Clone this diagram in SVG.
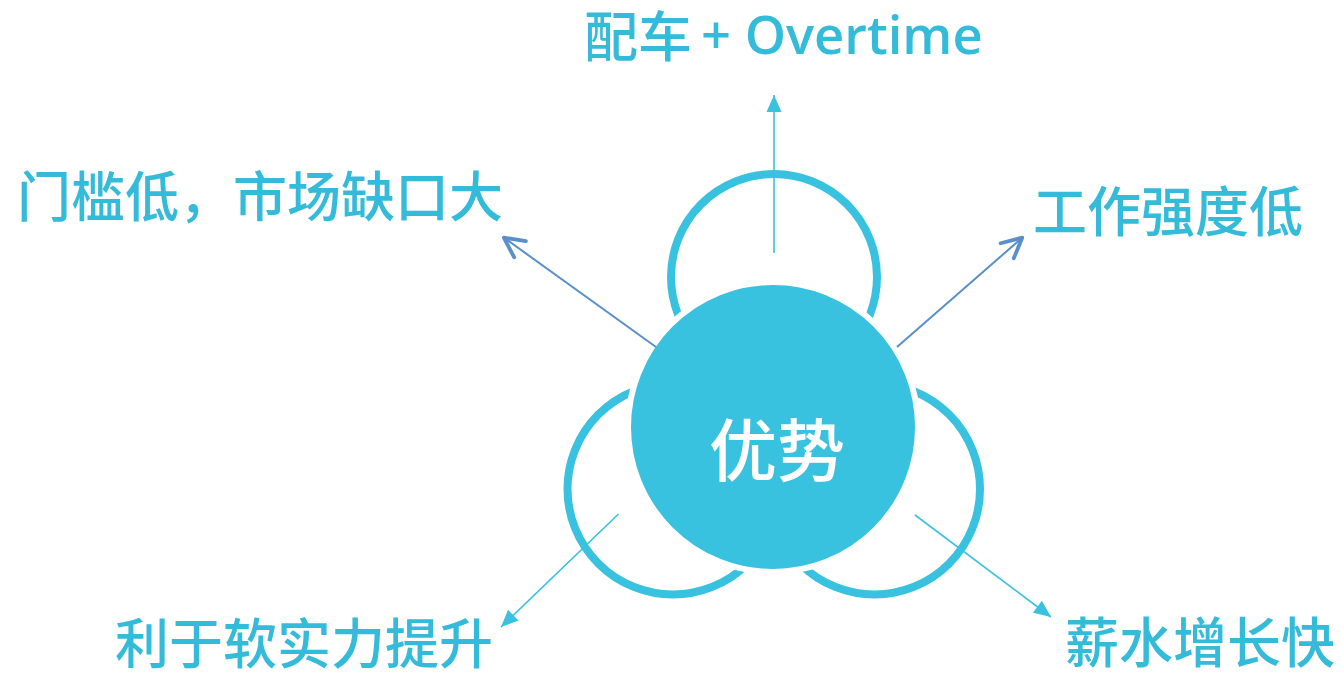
<svg xmlns="http://www.w3.org/2000/svg" width="1341" height="674" viewBox="0 0 1341 674">
  <defs>
    <style>
      .ring { fill: none; stroke: #38C2DF; stroke-width: 8; }
      .core { fill: #38C2DF; stroke: #FFFFFF; stroke-width: 6; }
      .lbl { font-family: "Noto Sans CJK SC", "Noto Sans", sans-serif; font-size: 54px; font-weight: 500; fill: #35BBDA; }
      .lat { font-family: "Open Sans", "Noto Sans", sans-serif; font-size: 52.5px; font-weight: 600; }
      .center { font-family: "Noto Sans CJK SC", sans-serif; font-size: 68px; font-weight: 500; fill: #FFFFFF; text-anchor: middle; }
      .cy { stroke: #38C2DF; stroke-width: 1.6; fill: none; }
      .bl { stroke: #5B8FCA; stroke-width: 2; fill: none; }
    </style>
    <marker id="tri" markerUnits="userSpaceOnUse" markerWidth="40" markerHeight="40" viewBox="-20 -20 40 40" refX="0" refY="0" orient="auto" overflow="visible">
      <path d="M 0 0 L -17 -7.5 L -17 7.5 Z" fill="#38C2DF"/>
    </marker>
    <marker id="open" markerUnits="userSpaceOnUse" markerWidth="50" markerHeight="50" viewBox="-25 -25 50 50" refX="0" refY="0" orient="auto" overflow="visible">
      <path d="M -21 -10 L -1 0 L -21 10" fill="none" stroke="#5B8FCA" stroke-width="3.8" stroke-linecap="round" stroke-linejoin="round"/>
    </marker>
  </defs>
  <rect width="1341" height="674" fill="#FFFFFF"/>

  <g id="ring-top"><circle class="ring" cx="774" cy="277" r="103"/></g>
  <g id="ring-left"><circle class="ring" cx="673" cy="489" r="105.5"/></g>
  <g id="ring-right"><circle class="ring" cx="874.5" cy="489" r="105.5"/></g>

  <g id="core">
    <circle class="core" cx="773" cy="427" r="145"/>
    <text class="center" x="777" y="476">优势</text>
  </g>

  <g id="connectors">
    <line class="cy" x1="774" y1="253" x2="774" y2="95" marker-end="url(#tri)"/>
    <line class="bl" x1="656" y1="347" x2="503" y2="237" marker-end="url(#open)"/>
    <line class="bl" x1="897" y1="347" x2="1023" y2="237" marker-end="url(#open)"/>
    <line class="cy" x1="618.5" y1="514" x2="501" y2="627" marker-end="url(#tri)"/>
    <line class="cy" x1="915" y1="515" x2="1051" y2="617" marker-end="url(#tri)"/>
  </g>

  <g id="label-top">
    <text class="lbl" y="57"><tspan x="584">配车</tspan><tspan class="lat" x="701" y="54">+ Overtime</tspan></text>
  </g>
  <g id="label-upper-left">
    <text class="lbl" x="17" y="217">门槛低，市场缺口大</text>
  </g>
  <g id="label-upper-right">
    <text class="lbl" x="1033" y="232">工作强度低</text>
  </g>
  <g id="label-lower-left">
    <text class="lbl" x="115" y="664">利于软实力提升</text>
  </g>
  <g id="label-lower-right">
    <text class="lbl" x="1065" y="663">薪水增长快</text>
  </g>
</svg>
